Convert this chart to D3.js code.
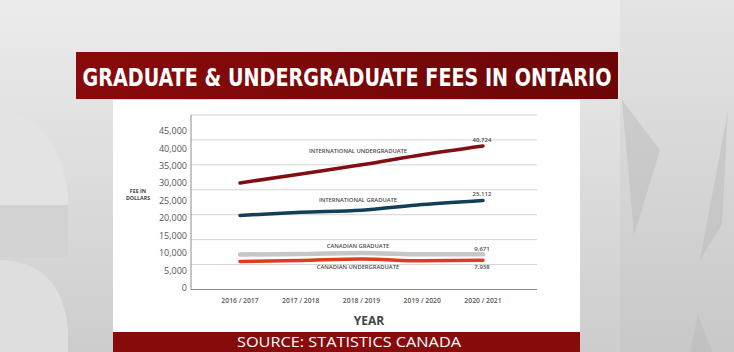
<html>
<head>
  <meta charset="utf-8" />
  <script src="https://cdnjs.cloudflare.com/ajax/libs/d3/7.8.5/d3.min.js"></script>
  <style>
    body { margin: 0; background: #d6d6d6; }
    svg { display: block; }
    text { font-family: "Open Sans", "DejaVu Sans", sans-serif; }
  </style>
</head>
<body>
  <svg width="734" height="352"></svg>
  <script>

  // values
  var years = ["2016 / 2017", "2017 / 2018", "2018 / 2019", "2019 / 2020", "2020 / 2021"];
  var intlUndergrad = [30100, 32700, 35300, 38200, 40724];
  var intlGrad      = [20800, 21700, 22300, 23900, 25112];
  var cdnGrad       = [9600, 9750, 10050, 9650, 9671];
  var cdnUndergrad  = [7600, 7900, 8300, 7800, 7938];
  var yTicks = [0, 5000, 10000, 15000, 20000, 25000, 30000, 35000, 40000, 45000];

  var series = [
    { name: "CANADIAN GRADUATE", values: cdnGrad, color: "#c6c6c6", width: 4.5, labelDy: -7, valueDy: -5 },
    { name: "CANADIAN UNDERGRADUATE", values: cdnUndergrad, color: "#dd3c1e", width: 3.5, labelDy: 8, valueDy: 7 },
    { name: "INTERNATIONAL GRADUATE", values: intlGrad, color: "#123f57", width: 3.5, labelDy: -10, valueDy: -6 },
    { name: "INTERNATIONAL UNDERGRADUATE", values: intlUndergrad, color: "#820d12", width: 3.5, labelDy: -14, valueDy: -6.5 }
  ];

  var svg = d3.select("svg");
  var defs = svg.append("defs");

  var bg = defs.append("linearGradient").attr("id", "bg").attr("x1", 0).attr("y1", 0).attr("x2", 0).attr("y2", 1);
  bg.append("stop").attr("offset", "0%").attr("stop-color", "#ececec");
  bg.append("stop").attr("offset", "100%").attr("stop-color", "#cdcdcd");

  var side = defs.append("linearGradient").attr("id", "side").attr("x1", 0).attr("y1", 0).attr("x2", 0).attr("y2", 1);
  side.append("stop").attr("offset", "0%").attr("stop-color", "#e4e4e4");
  side.append("stop").attr("offset", "100%").attr("stop-color", "#c8c8c8");

  var banner = defs.append("linearGradient").attr("id", "banner").attr("x1", 0).attr("y1", 0).attr("x2", 1).attr("y2", 0);
  banner.append("stop").attr("offset", "0%").attr("stop-color", "#8a0a0a");
  banner.append("stop").attr("offset", "100%").attr("stop-color", "#6c0606");

  // studio backdrop
  svg.append("rect").attr("width", 734).attr("height", 352).attr("fill", "url(#bg)");
  svg.append("rect").attr("x", 620).attr("y", 0).attr("width", 114).attr("height", 352)
    .attr("fill", "url(#side)");
  svg.append("path")
    .attr("d", "M622,100 L634,235 L660,150 Z M728,110 L722,225 L700,260 Z M690,352 L698,315 L712,352 Z")
    .attr("fill", "#b9b9b9").attr("opacity", 0.45);
  svg.append("path")
    .attr("d", "M0,110 Q60,120 68,195 L68,208 L0,208 Z")
    .attr("fill", "#e3e3e3");
  svg.append("rect").attr("x", 0).attr("y", 205).attr("width", 68).attr("height", 52).attr("fill", "#d2d2d2");
  svg.append("path")
    .attr("d", "M0,260 Q62,262 68,330 L68,352 L0,352 Z")
    .attr("fill", "#dedede");

  // title banner
  svg.append("rect").attr("x", 76).attr("y", 52).attr("width", 542).attr("height", 47)
    .attr("fill", "url(#banner)");
  svg.append("text")
    .attr("x", 347).attr("y", 86)
    .attr("text-anchor", "middle")
    .attr("textLength", 529).attr("lengthAdjust", "spacingAndGlyphs")
    .style("font-family", "'Liberation Sans Narrow', 'DejaVu Sans Condensed', sans-serif")
    .style("font-weight", "bold").style("font-size", "25px")
    .attr("fill", "#ffffff")
    .text("GRADUATE & UNDERGRADUATE FEES IN ONTARIO");

  // white card
  svg.append("rect").attr("x", 113).attr("y", 100).attr("width", 467).attr("height", 232).attr("fill", "#ffffff");

  // source banner
  svg.append("rect").attr("x", 113).attr("y", 332).attr("width", 467).attr("height", 20).attr("fill", "#880b0b");
  svg.append("text")
    .attr("x", 349).attr("y", 347)
    .attr("text-anchor", "middle")
    .attr("textLength", 224).attr("lengthAdjust", "spacingAndGlyphs")
    .style("font-size", "15px")
    .attr("fill", "#ffffff")
    .text("SOURCE: STATISTICS CANADA");

  // scales
  var plotLeft = 191, plotRight = 537, plotTop = 115, plotBottom = 289.5;
  var x = d3.scalePoint().domain(years).range([240, 483]);
  var y = d3.scaleLinear().domain([0, 45000]).range([288, 131]);
  // the graphic's gridlines don't follow the tick labels: 7 even bands
  var grid = d3.scaleLinear().domain([0, 7]).range([plotBottom, plotTop]);

  svg.append("g").selectAll("line")
    .data(d3.range(1, 8))
    .enter().append("line")
    .attr("x1", plotLeft).attr("x2", plotRight)
    .attr("y1", d => grid(d)).attr("y2", d => grid(d))
    .attr("stroke", "#d4d4d4").attr("stroke-width", 1);

  svg.append("line").attr("x1", plotLeft).attr("x2", plotLeft)
    .attr("y1", plotTop).attr("y2", plotBottom)
    .attr("stroke", "#8c8c8c").attr("stroke-width", 1);
  svg.append("line").attr("x1", plotLeft).attr("x2", plotRight)
    .attr("y1", plotBottom).attr("y2", plotBottom)
    .attr("stroke", "#8c8c8c").attr("stroke-width", 1);

  // y tick labels
  svg.append("g").selectAll("text")
    .data(yTicks)
    .enter().append("text")
    .attr("x", 187).attr("y", d => y(d))
    .attr("dy", "0.35em")
    .attr("text-anchor", "end")
    .style("font-size", "9px")
    .attr("fill", "#555")
    .text(d => d3.format(",")(d));

  // x tick labels
  svg.append("g").selectAll("text")
    .data(years)
    .enter().append("text")
    .attr("x", d => x(d)).attr("y", 301)
    .attr("dy", "0.35em")
    .attr("text-anchor", "middle")
    .style("font-size", "6.8px").style("font-weight", "600")
    .attr("fill", "#5a5a5a")
    .text(d => d);

  svg.append("text").attr("x", 369).attr("y", 325)
    .attr("text-anchor", "middle")
    .style("font-size", "12px").style("font-weight", "bold")
    .attr("fill", "#444")
    .text("YEAR");

  var yTitle = svg.append("text").attr("text-anchor", "middle")
    .style("font-size", "5.3px").style("font-weight", "bold").attr("fill", "#444");
  yTitle.append("tspan").attr("x", 138).attr("y", 193).text("FEE IN");
  yTitle.append("tspan").attr("x", 138).attr("y", 200).text("DOLLARS");

  // lines
  var line = d3.line()
    .x((d, i) => x(years[i]))
    .y(d => y(d))
    .curve(d3.curveMonotoneX);

  svg.append("g").selectAll("path")
    .data(series)
    .enter().append("path")
    .attr("d", d => line(d.values))
    .attr("fill", "none")
    .attr("stroke", d => d.color)
    .attr("stroke-width", d => d.width)
    .attr("stroke-linecap", "round");

  // series names, centred over the middle year
  svg.append("g").selectAll("text")
    .data(series)
    .enter().append("text")
    .attr("x", 358)
    .attr("y", d => y(d.values[2]) + d.labelDy)
    .attr("dy", "0.35em")
    .attr("text-anchor", "middle")
    .style("font-size", "5.8px").style("font-weight", "600")
    .attr("fill", "#4a4a4a")
    .text(d => d.name);

  // end values
  svg.append("g").selectAll("text")
    .data(series)
    .enter().append("text")
    .attr("x", x(years[4]) - 1)
    .attr("y", d => y(d.values[4]) + d.valueDy)
    .attr("dy", "0.35em")
    .attr("text-anchor", "middle")
    .style("font-size", "6px").style("font-weight", "600")
    .attr("fill", "#4a4a4a")
    .text(d => d3.format(",")(d.values[4]));

  </script>
</body>
</html>
